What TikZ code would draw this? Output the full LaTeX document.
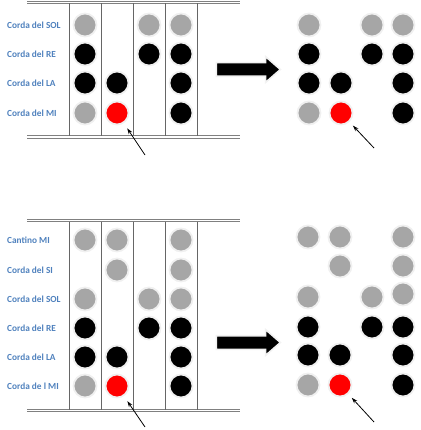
\documentclass[tikz,border=0pt]{standalone}
\usepackage{fontspec}
\setmainfont{Carlito}
\usepackage{tikz}
\usetikzlibrary{arrows.meta,shapes.arrows}
\definecolor{lblblue}{HTML}{4F81BD}
\definecolor{dotgray}{HTML}{A6A6A6}

\begin{document}
\begin{tikzpicture}[x=1pt,y=-1pt,>={Stealth[length=6pt,width=4pt]},
  font=\fontsize{9.3}{11}\selectfont\bfseries,
  dot/.style={circle,minimum size=23pt,inner sep=0pt,draw=gray!12,line width=1.8pt},
  gy/.style={dot,fill=dotgray}, bk/.style={dot,fill=black}, rd/.style={dot,fill=red},
  lbl/.style={anchor=west,text=lblblue,inner sep=0pt},
  rail/.style={draw=gray,double=white,double distance=1.3pt,line width=0.9pt},
  fret/.style={draw=gray!80!black,line width=0.8pt},
  bigarr/.style={single arrow,fill=black,draw=gray!10,line width=1.6pt,inner xsep=0pt,inner ysep=6pt,
    minimum height=64pt,single arrow head extend=6pt,single arrow tip angle=82},
  pt/.style={->,line width=0.8pt}]
  \useasboundingbox (0,0) rectangle (420,430);
  % top panel: four strings
  \draw[rail] (27,2.5) -- (240,2.5); \draw[rail] (27,137) -- (240,137);
  \foreach \x in {69,101,133,165,197} \draw[fret] (\x,3.5) -- (\x,136);
  \node[lbl] (aSolL) at (7,25) {Corda del SOL};
  \node[lbl] (aReL) at (7,54) {Corda del RE};
  \node[lbl] (aLaL) at (7,83) {Corda del LA};
  \node[lbl] (aMiL) at (7,113) {Corda del MI};
  \node[gy] (aSol1) at (85,25) {}; \node[gy] (aSol3) at (149,25) {}; \node[gy] (aSol4) at (181,25) {};
  \node[bk] (aRe1) at (85,54) {}; \node[bk] (aRe3) at (149,54) {}; \node[bk] (aRe4) at (181,54) {};
  \node[bk] (aLa1) at (85,83) {}; \node[bk] (aLa2) at (117,83) {}; \node[bk] (aLa4) at (181,83) {};
  \node[gy] (aMi1) at (85,113) {}; \node[rd] (aMi2) at (117,113) {}; \node[bk] (aMi4) at (181,113) {};
  \coordinate (aPt) at (145,155);
  \draw[pt,shorten >=6pt] (aPt) -- (aMi2);
  \node[bigarr] (aGo) at (244.5,69.5) {};
  \node[gy] (bSol1) at (309,25) {}; \node[gy] (bSol3) at (372,25) {}; \node[gy] (bSol4) at (403,25) {};
  \node[bk] (bRe1) at (309,54) {}; \node[bk] (bRe3) at (372,54) {}; \node[bk] (bRe4) at (403,54) {};
  \node[bk] (bLa1) at (309,83) {}; \node[bk] (bLa2) at (341,83) {}; \node[bk] (bLa4) at (403,83) {};
  \node[gy] (bMi1) at (309,113) {}; \node[rd] (bMi2) at (341,113) {}; \node[bk] (bMi4) at (403,113) {};
  \coordinate (bPt) at (374,148);
  \draw[pt,shorten >=5pt] (bPt) -- (bMi2);
  % bottom panel: six strings
  \draw[rail] (27,220.5) -- (240,220.5); \draw[rail] (27,410.5) -- (240,410.5);
  \foreach \x in {69,101,133,165,197} \draw[fret] (\x,221.5) -- (\x,409.5);
  \node[lbl] (cCanL) at (7,240) {Cantino MI};
  \node[lbl] (cSiL) at (7,270) {Corda del SI};
  \node[lbl] (cSolL) at (7,299) {Corda del SOL};
  \node[lbl] (cReL) at (7,328) {Corda del RE};
  \node[lbl] (cLaL) at (7,357) {Corda del LA};
  \node[lbl] (cMiL) at (7,386) {Corda de l MI};
  \node[gy] (cCan1) at (85,240) {}; \node[gy] (cCan2) at (117,240) {}; \node[gy] (cCan4) at (181,240) {};
  \node[gy] (cSi2) at (117,270) {}; \node[gy] (cSi4) at (181,270) {};
  \node[gy] (cSol1) at (85,299) {}; \node[gy] (cSol3) at (149,299) {}; \node[gy] (cSol4) at (181,299) {};
  \node[bk] (cRe1) at (85,328) {}; \node[bk] (cRe3) at (149,328) {}; \node[bk] (cRe4) at (181,328) {};
  \node[bk] (cLa1) at (85,357) {}; \node[bk] (cLa2) at (117,357) {}; \node[bk] (cLa4) at (181,357) {};
  \node[gy] (cMi1) at (85,386) {}; \node[rd] (cMi2) at (117,386) {}; \node[bk] (cMi4) at (181,386) {};
  \coordinate (cPt) at (145,427);
  \draw[pt,shorten >=6pt] (cPt) -- (cMi2);
  \node[bigarr] (cGo) at (244.5,342.5) {};
  \node[gy] (dCan1) at (308,237) {}; \node[gy] (dCan2) at (340,237) {}; \node[gy] (dCan4) at (403,237) {};
  \node[gy] (dSi2) at (340,266) {}; \node[gy] (dSi4) at (403,266) {};
  \node[gy] (dSol1) at (308,297) {}; \node[gy] (dSol3) at (372,297) {}; \node[gy] (dSol4) at (403,294) {};
  \node[bk] (dRe1) at (308,327) {}; \node[bk] (dRe3) at (372,327) {}; \node[bk] (dRe4) at (403,327) {};
  \node[bk] (dLa1) at (308,355) {}; \node[bk] (dLa2) at (340,355) {}; \node[bk] (dLa4) at (403,355) {};
  \node[gy] (dMi1) at (308,385) {}; \node[rd] (dMi2) at (340,385) {}; \node[bk] (dMi4) at (403,385) {};
  \coordinate (dPt) at (374,422);
  \draw[pt,shorten >=5pt] (dPt) -- (dMi2);
\end{tikzpicture}
\end{document}
